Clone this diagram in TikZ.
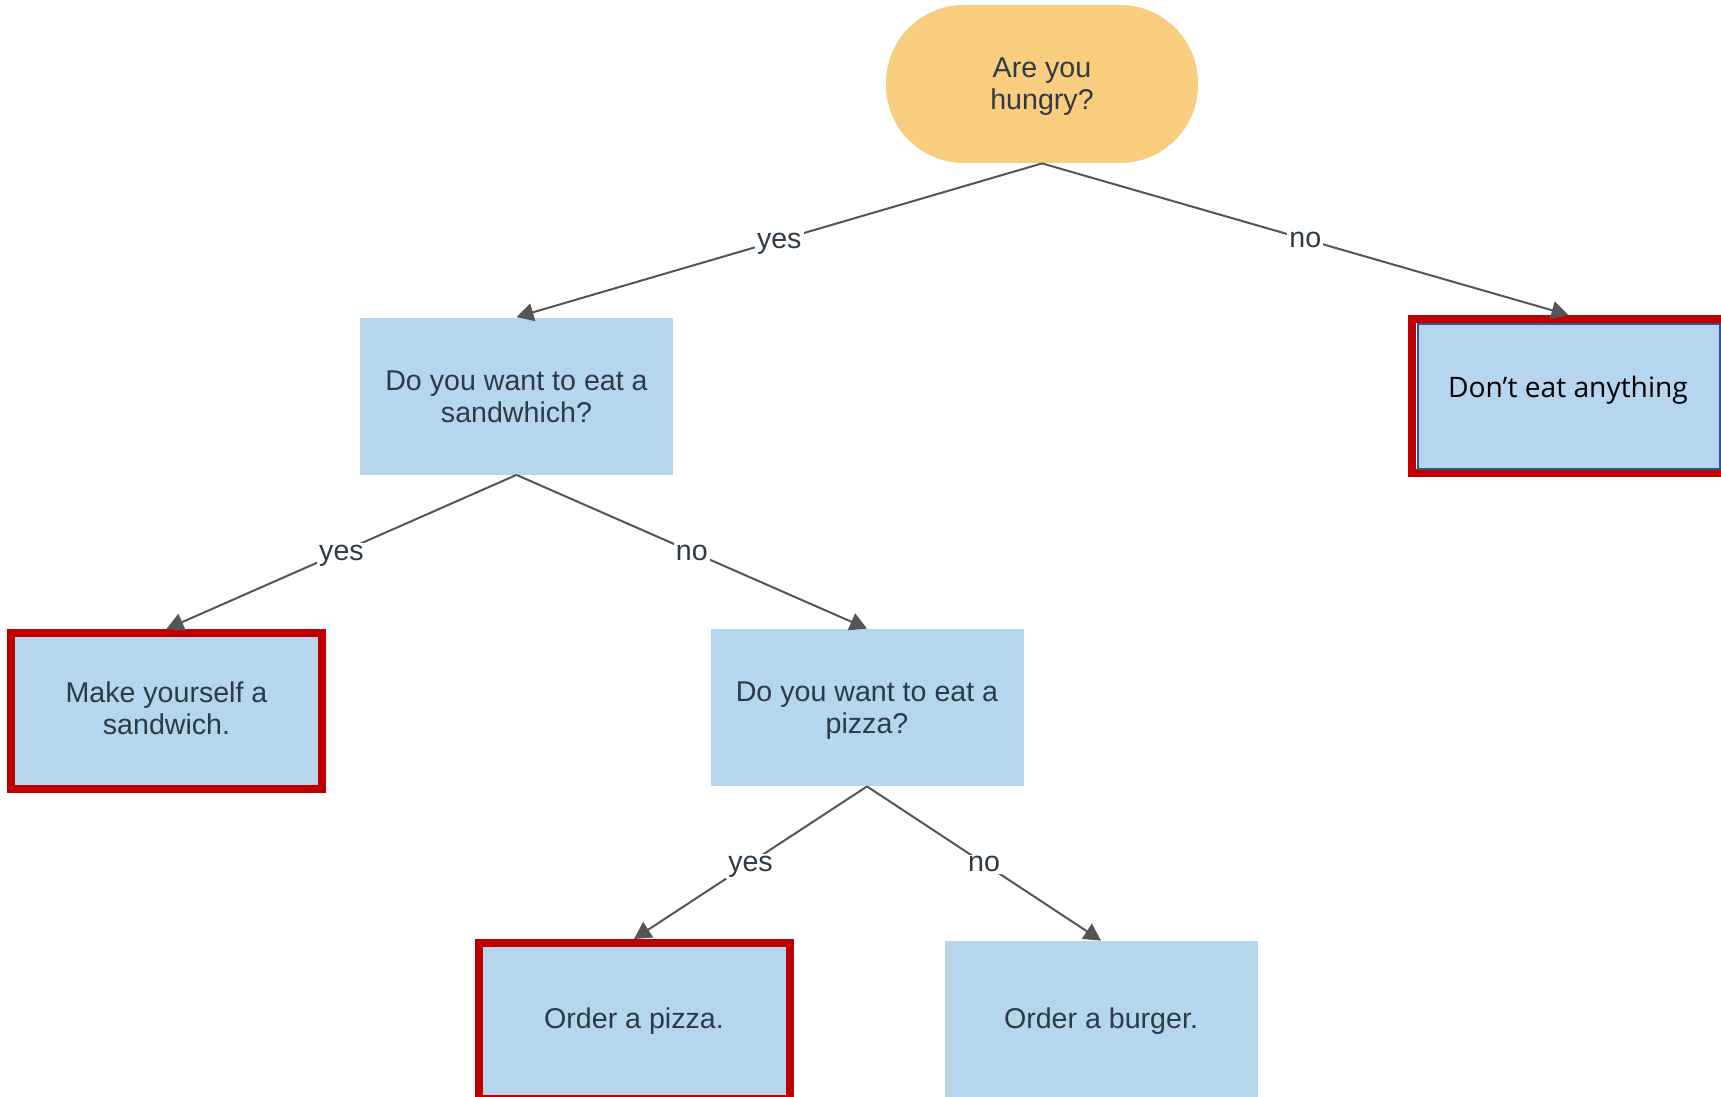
\documentclass[tikz,border=0pt]{standalone}
\usepackage{fontspec}
\setmainfont{Liberation Sans}
\newfontfamily\segoe{Open Sans}
\usetikzlibrary{arrows.meta}
\definecolor{boxblue}{HTML}{B6D6EE}
\definecolor{stad}{HTML}{F8CD7D}
\definecolor{redb}{HTML}{C00000}
\definecolor{darkb}{HTML}{2F5597}
\definecolor{txt}{HTML}{2E3A44}
\definecolor{edgec}{HTML}{555555}
\begin{document}
\begin{tikzpicture}[x=0.5pt,y=-0.5pt,
  qbox/.style={rectangle, fill=boxblue, minimum width=156.5pt, minimum height=78.5pt, inner sep=0pt},
  redbox/.style={qbox, draw=redb, line width=4pt, minimum width=155.5pt, minimum height=78pt},
  stadium/.style={rectangle, rounded corners=39pt, fill=stad, minimum width=156pt, minimum height=79pt, inner sep=0pt},
  btxt/.style={inner sep=0pt, align=center, text=txt, font=\fontsize{14.3}{16}\selectfont},
  conn/.style={draw=edgec, line width=1pt, -{Triangle[width=9pt,length=8.5pt]}},
  lbl/.style={midway, anchor=base, yshift=-4.2pt, fill=white, inner sep=1pt, text=txt, font=\fontsize{14.3}{16}\selectfont}
]
\clip (0,0) rectangle (1721,1097);
\fill[white] (0,0) rectangle (1721,1097);

\node[stadium] (top) at (1042,84) {};
\node[btxt] (topt) at ([yshift=-1.4pt]top.center) {Are you\\hungry?};
\node[qbox] (sq) at (516.5,396) {};
\node[btxt] (sqt) at ([yshift=-0.5pt]sq.center) {Do you want to eat a\\sandwhich?};
\node[rectangle, draw=redb, line width=4pt, minimum width=156.5pt, minimum height=77pt, inner sep=0pt] (nored) at (1568.5,396) {};
\node[rectangle, fill=boxblue, draw=darkb, line width=1pt, minimum width=151pt, minimum height=72.5pt, inner sep=0pt] (no) at (1568.5,396) {};
\node[font=\segoe\fontsize{14.1}{16}\selectfont, text=black, inner sep=0pt] (notxt) at (1568,390) {Don’t eat anything};
\node[redbox] (make) at (166.5,711) {};
\node[btxt] (maket) at ([yshift=1.6pt]make.center) {Make yourself a\\sandwich.};
\node[qbox] (pq) at (867,707.5) {};
\node[btxt] (pqt) at ([yshift=-1.6pt]pq.center) {Do you want to eat a\\pizza?};
\node[redbox] (pizza) at (634,1021) {};
\node[btxt] (pizzat) at (pizza.center) {Order a pizza.};
\node[qbox] (burger) at (1101,1019.5) {};
\node[btxt] (burgert) at ([yshift=-1pt]burger.center) {Order a burger.};

\draw[conn] (top.south) -- node[lbl] {yes} (sq.north);
\draw[conn] (top.south) -- node[lbl] {no} (nored.north);
\draw[conn] (sq.south) -- node[lbl] {yes} (make.north);
\draw[conn] (sq.south) -- node[lbl] {no} (pq.north);
\draw[conn] (pq.south) -- node[lbl] {yes} (pizza.north);
\draw[conn] (pq.south) -- node[lbl] {no} (burger.north);
\end{tikzpicture}
\end{document}
